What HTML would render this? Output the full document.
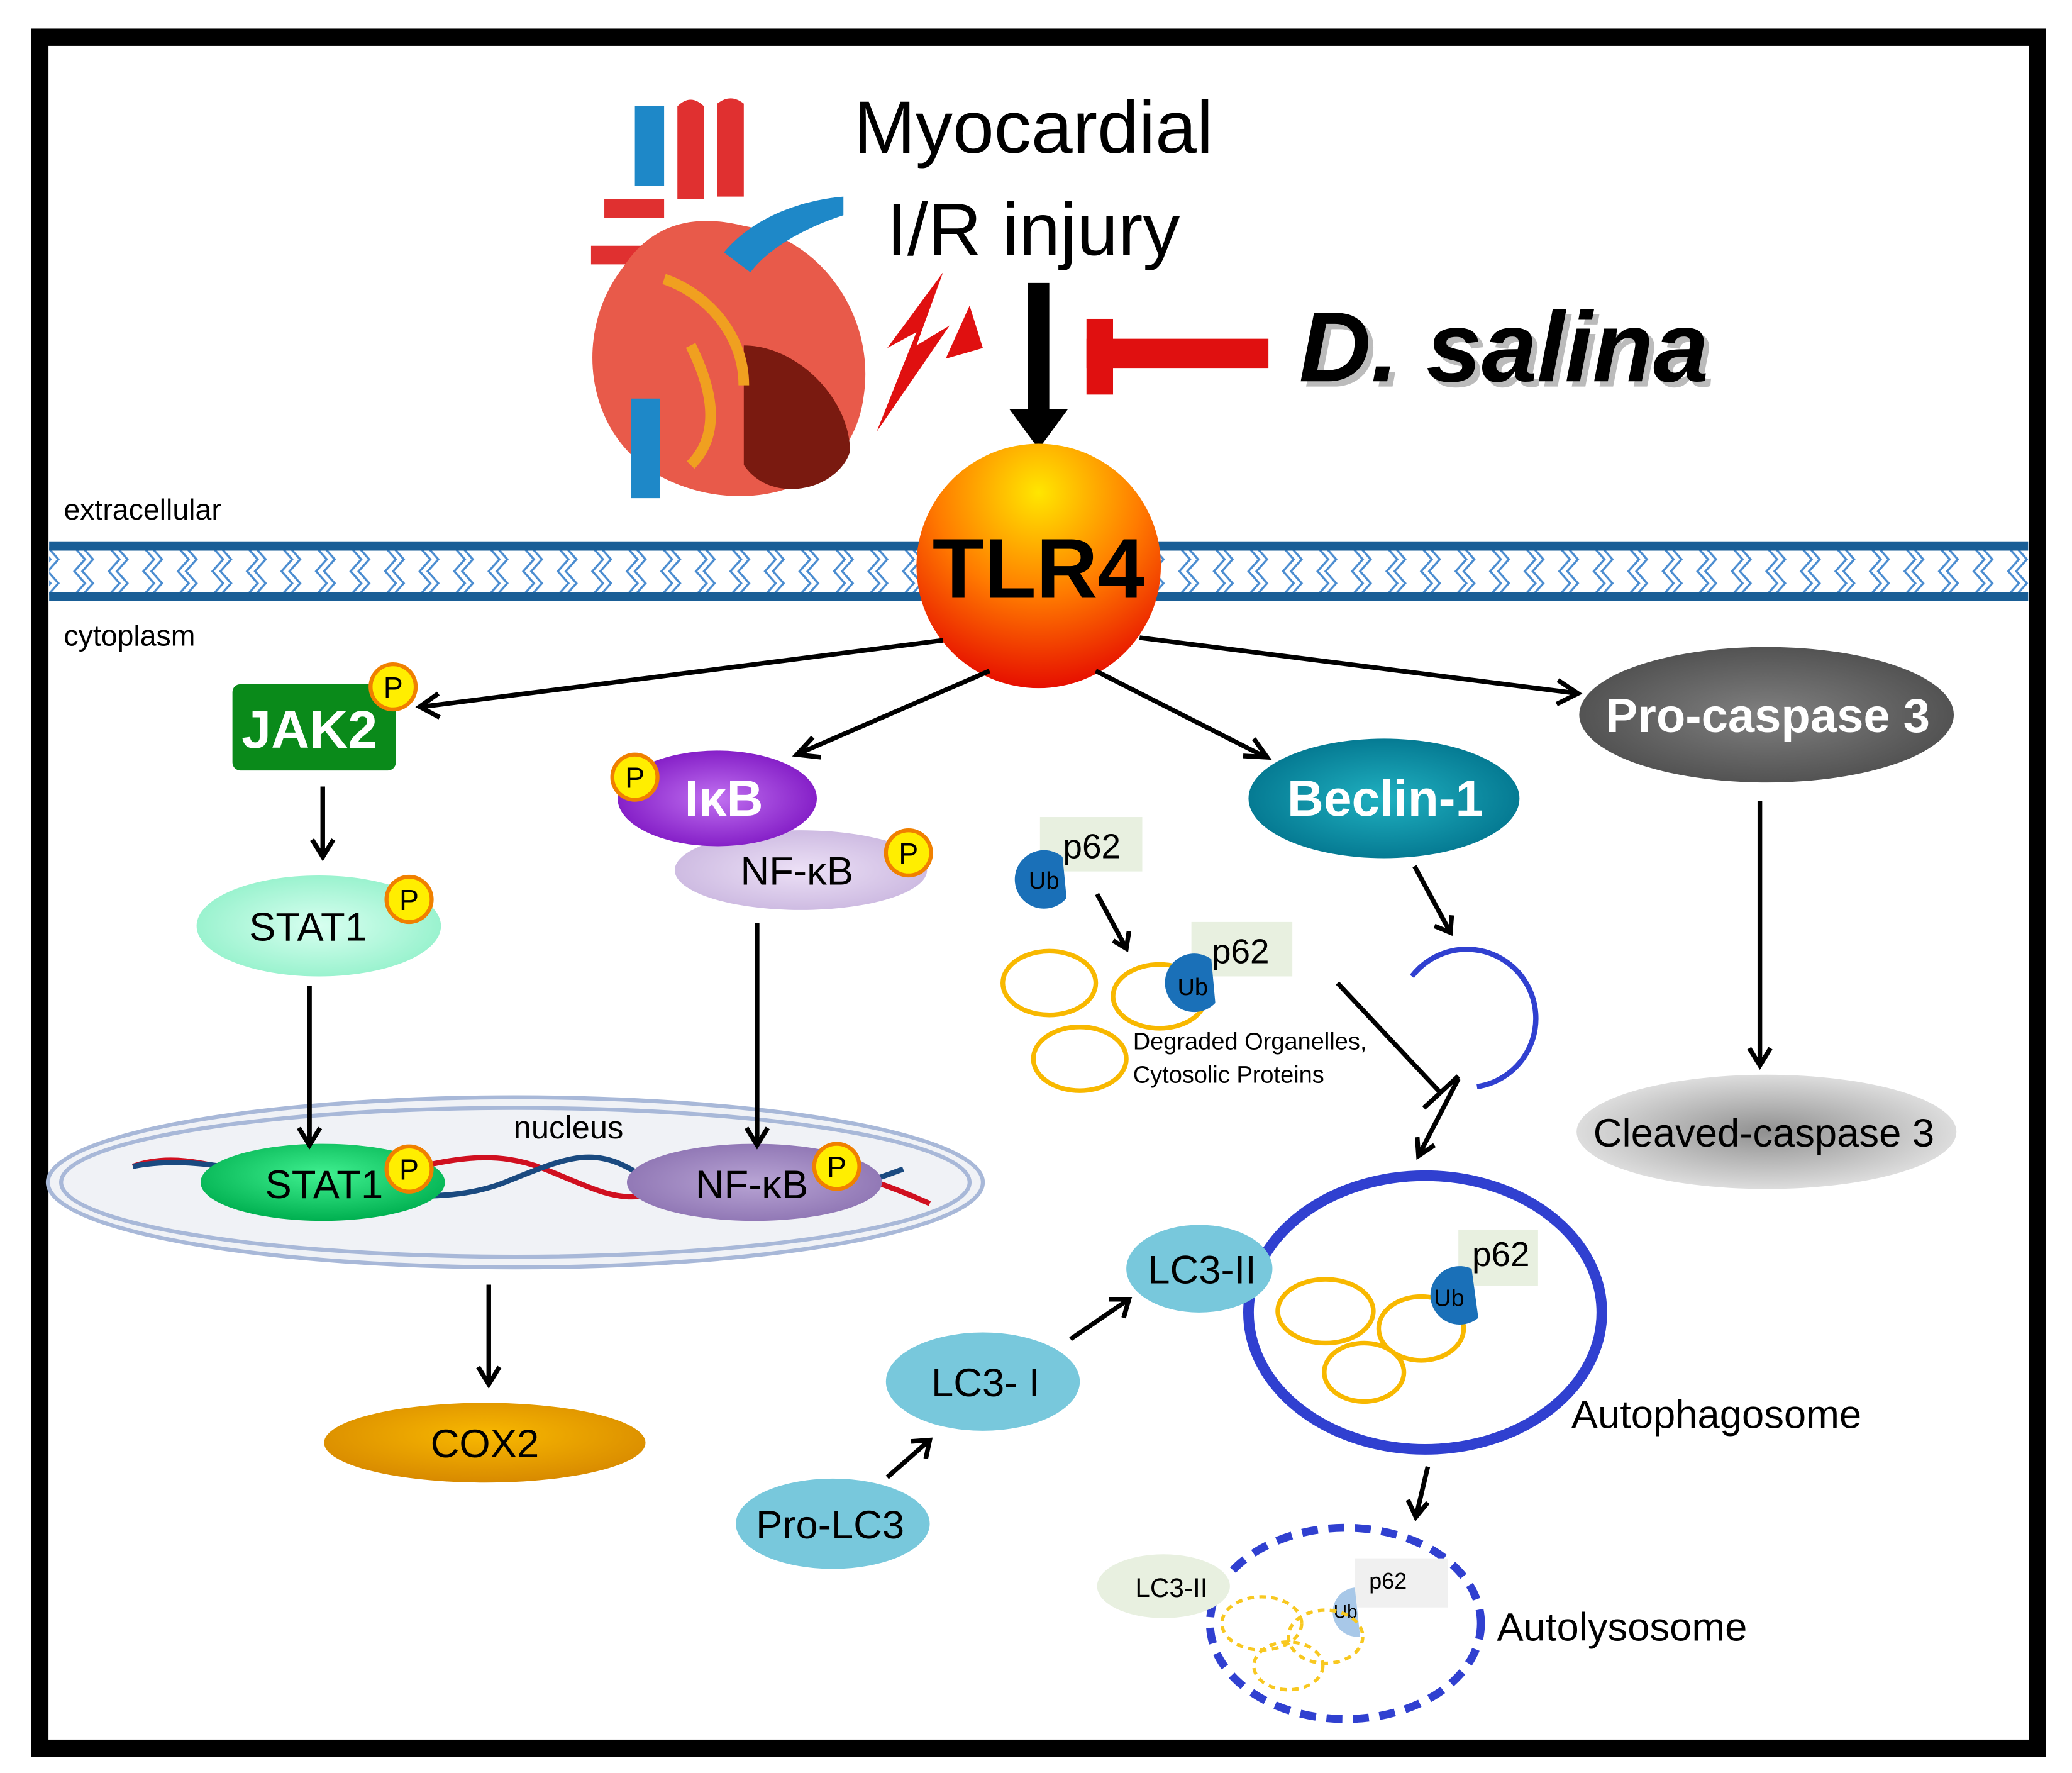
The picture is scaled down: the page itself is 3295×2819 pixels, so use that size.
<!DOCTYPE html>
<html><head><meta charset="utf-8"><style>
html,body{margin:0;padding:0;background:#fff}
svg{display:block}
text{font-family:"Liberation Sans",sans-serif}
</style></head><body>
<svg width="3295" height="2819" viewBox="0 0 1560 1334.6" xmlns="http://www.w3.org/2000/svg">
<defs>
<radialGradient id="tlr" cx="0.5" cy="0.2" r="0.85"><stop offset="0" stop-color="#ffe600"/><stop offset="0.5" stop-color="#ff7a00"/><stop offset="1" stop-color="#e30000"/></radialGradient>
<radialGradient id="mint" cx="0.5" cy="0.5" r="0.6"><stop offset="0" stop-color="#d8fff0"/><stop offset="1" stop-color="#8ef0c8"/></radialGradient>
<radialGradient id="grn" cx="0.5" cy="0.4" r="0.6"><stop offset="0" stop-color="#40f090"/><stop offset="1" stop-color="#00b050"/></radialGradient>
<radialGradient id="pur" cx="0.5" cy="0.5" r="0.6"><stop offset="0" stop-color="#c070f0"/><stop offset="1" stop-color="#7a10c0"/></radialGradient>
<radialGradient id="lav" cx="0.5" cy="0.5" r="0.6"><stop offset="0" stop-color="#ece0f6"/><stop offset="1" stop-color="#c8b4de"/></radialGradient>
<radialGradient id="lav2" cx="0.5" cy="0.5" r="0.6"><stop offset="0" stop-color="#b8a4d4"/><stop offset="1" stop-color="#8a70b0"/></radialGradient>
<radialGradient id="teal" cx="0.5" cy="0.5" r="0.6"><stop offset="0" stop-color="#20b0c0"/><stop offset="1" stop-color="#00708a"/></radialGradient>
<radialGradient id="gry" cx="0.5" cy="0.5" r="0.6"><stop offset="0" stop-color="#808080"/><stop offset="1" stop-color="#4a4a4a"/></radialGradient>
<radialGradient id="lgry" cx="0.5" cy="0.5" r="0.6"><stop offset="0" stop-color="#909090"/><stop offset="1" stop-color="#ececec"/></radialGradient>
<radialGradient id="org" cx="0.5" cy="0.4" r="0.6"><stop offset="0" stop-color="#f8b800"/><stop offset="1" stop-color="#d88a00"/></radialGradient>
<pattern id="zz" x="0" y="412" width="26" height="36" patternUnits="userSpaceOnUse">
<path d="M10 0 L18 9 L10 18 L18 27 L10 36 M4 0 L12 9 L4 18 L12 27 L4 36" stroke="#4a8cd0" stroke-width="1.6" fill="none"/>
</pattern>
</defs>
<rect x="0" y="0" width="1560" height="1335" fill="#fff"/>
<rect x="30" y="28" width="1504" height="1288" fill="none" stroke="#000" stroke-width="13"/>
<!-- membrane -->
<rect x="37" y="412" width="1490" height="36" fill="url(#zz)"/>
<line x1="37" y1="411" x2="1527" y2="411" stroke="#1a5e96" stroke-width="7"/>
<line x1="37" y1="449" x2="1527" y2="449" stroke="#1a5e96" stroke-width="7"/>
<text x="48" y="391" font-size="22">extracellular</text>
<text x="48" y="486" font-size="22">cytoplasm</text>
<!-- heart -->
<g>
<path d="M478 80 h22 v60 h-22z" fill="#1e88c8"/>
<path d="M510 80 q10 -10 20 0 v70 h-20z" fill="#e03030"/>
<path d="M540 78 q10 -8 20 0 v70 h-20z" fill="#e03030"/>
<path d="M455 150 h45 v14 h-45z M445 185 h45 v14 h-45z" fill="#e03030"/>
<path d="M470 200 C430 250 440 330 500 360 C560 390 640 370 650 300 C660 240 620 180 560 170 C520 160 490 170 470 200z" fill="#e85a4a"/>
<path d="M560 260 C600 260 640 300 640 340 C630 370 580 380 560 350z" fill="#7a1a10"/>
<path d="M500 210 C530 220 560 250 560 290 M520 260 C540 300 540 330 520 350" stroke="#f0a020" stroke-width="8" fill="none"/>
<path d="M545 190 C570 160 610 150 635 148 v14 C610 170 580 185 565 205z" fill="#1e88c8"/>
<path d="M475 300 h22 v75 h-22z" fill="#1e88c8"/>
<path d="M710 205 L690 260 L715 245 L660 325 L690 250 L668 262z" fill="#e01010"/>
<path d="M730 230 L740 262 L712 270z" fill="#e01010"/>
</g>
<text x="778" y="115" font-size="56" text-anchor="middle">Myocardial</text>
<text x="778" y="192" font-size="56" text-anchor="middle">I/R injury</text>
<path d="M774 213 h16 v95 h14 l-22 30 l-22 -30 h14z" fill="#000"/>
<rect x="818" y="240" width="20" height="57" fill="#e01010"/>
<rect x="818" y="255" width="137" height="22" fill="#e01010"/>
<text x="978" y="287" font-size="75" font-weight="bold" font-style="italic" fill="#bbb" dx="4" dy="4">D. salina</text>
<text x="978" y="287" font-size="75" font-weight="bold" font-style="italic">D. salina</text>
<!-- TLR4 -->
<circle cx="782" cy="426" r="92" fill="url(#tlr)"/>
<text x="782" y="450" font-size="64" font-weight="bold" text-anchor="middle">TLR4</text>
<!-- nucleus -->
<ellipse cx="388" cy="890" rx="352" ry="64" fill="#f0f2f6" stroke="#a8b8d8" stroke-width="3"/>
<ellipse cx="388" cy="890" rx="342" ry="56" fill="none" stroke="#a8b8d8" stroke-width="3"/>
<text x="428" y="857" font-size="24" text-anchor="middle">nucleus</text>
<path d="M100 878 C150 860 200 900 260 890 S360 860 410 880 S470 910 520 890 S620 870 700 906" stroke="#d01020" stroke-width="4" fill="none"/>
<path d="M100 878 C140 870 180 880 220 888 S330 910 380 890 S450 860 490 890 S600 910 680 880" stroke="#1a4a80" stroke-width="4" fill="none"/>
<ellipse cx="243" cy="890" rx="92" ry="29" fill="url(#grn)"/>
<text x="244" y="902" font-size="30" text-anchor="middle">STAT1</text>
<ellipse cx="568" cy="890" rx="96" ry="29" fill="url(#lav2)"/>
<text x="566" y="902" font-size="30" text-anchor="middle">NF-κB</text>
<!-- arrows -->
<g stroke="#000" stroke-width="3.5" fill="none">
<path d="M710 482 L318 532 M330 522 L316 532 L331 540"/>
<path d="M745 505 L602 567 M612 555 L600 568 L618 570"/>
<path d="M825 505 L953 570 M936 569 L954 570 L944 556"/>
<path d="M858 480 L1188 522 M1173 512 L1188 522 L1172 530"/>
<path d="M243 592 L243 645 M235 632 L243 645 L251 632"/>
<path d="M233 742 L233 862 M225 849 L233 862 L241 849"/>
<path d="M570 695 L570 862 M562 849 L570 862 L578 849"/>
<path d="M368 967 L368 1042 M360 1029 L368 1042 L376 1029"/>
<path d="M1325 603 L1325 802 M1317 789 L1325 802 L1333 789"/>
<path d="M826 673 L848 714 M838 708 L848 714 L850 701"/>
<path d="M1065 652 L1092 702 M1080 697 L1092 702 L1093 689"/>
<path d="M1007 740 L1085 823 M1072 834 L1098 810"/>
<path d="M1098 812 L1068 870 M1067 856 L1068 870 L1080 862"/>
<path d="M668 1112 L700 1084 M686 1085 L700 1084 L697 1098"/>
<path d="M806 1008 L850 978 M835 978 L850 978 L846 992"/>
<path d="M1075 1104 L1066 1142 M1060 1129 L1066 1142 L1075 1131"/>
</g>
<!-- JAK2 -->
<rect x="175" y="515" width="123" height="65" rx="6" fill="#0a8a1a"/>
<text x="233" y="563" font-size="40" font-weight="bold" fill="#fff" text-anchor="middle">JAK2</text>
<ellipse cx="240" cy="697" rx="92" ry="38" fill="url(#mint)"/>
<text x="232" y="708" font-size="30" text-anchor="middle">STAT1</text>
<!-- IkB -->
<ellipse cx="603" cy="655" rx="95" ry="30" fill="url(#lav)"/>
<text x="600" y="666" font-size="30" text-anchor="middle">NF-κB</text>
<ellipse cx="540" cy="601" rx="75" ry="36" fill="url(#pur)"/>
<text x="545" y="614" font-size="38" font-weight="bold" fill="#fff" text-anchor="middle">IκB</text>
<ellipse cx="365" cy="1086" rx="121" ry="30" fill="url(#org)"/>
<text x="365" y="1097" font-size="30" text-anchor="middle">COX2</text>
<!-- P circles -->
<g font-size="22" text-anchor="middle">
<circle cx="296" cy="517" r="17" fill="#ffee00" stroke="#f08000" stroke-width="3"/><text x="296" y="525">P</text>
<circle cx="308" cy="677" r="17" fill="#ffee00" stroke="#f08000" stroke-width="3"/><text x="308" y="685">P</text>
<circle cx="478" cy="585" r="17" fill="#ffee00" stroke="#f08000" stroke-width="3"/><text x="478" y="593">P</text>
<circle cx="684" cy="642" r="17" fill="#ffee00" stroke="#f08000" stroke-width="3"/><text x="684" y="650">P</text>
<circle cx="308" cy="880" r="17" fill="#ffee00" stroke="#f08000" stroke-width="3"/><text x="308" y="888">P</text>
<circle cx="630" cy="878" r="17" fill="#ffee00" stroke="#f08000" stroke-width="3"/><text x="630" y="886">P</text>
</g>
<!-- right side -->
<ellipse cx="1042" cy="601" rx="102" ry="45" fill="url(#teal)"/>
<text x="1043" y="614" font-size="38" font-weight="bold" fill="#fff" text-anchor="middle">Beclin-1</text>
<ellipse cx="1330" cy="538" rx="141" ry="51" fill="url(#gry)"/>
<text x="1331" y="551" font-size="36" font-weight="bold" fill="#fff" text-anchor="middle">Pro-caspase 3</text>
<ellipse cx="1330" cy="852" rx="143" ry="43" fill="url(#lgry)"/>
<text x="1328" y="863" font-size="30" text-anchor="middle">Cleaved-caspase 3</text>
<!-- p62 group -->
<rect x="783" y="615" width="77" height="41" fill="#e8f0e0"/>
<text x="822" y="646" font-size="26" text-anchor="middle">p62</text>
<path d="M800 645 A22 22 0 1 0 803 676z" fill="#1a70b8"/>
<text x="786" y="669" font-size="18" text-anchor="middle">Ub</text>
<g fill="none" stroke="#f8b800" stroke-width="3.5">
<ellipse cx="790" cy="740" rx="35" ry="24"/><ellipse cx="873" cy="750" rx="35" ry="24"/><ellipse cx="813" cy="797" rx="35" ry="24"/>
<ellipse cx="998" cy="987" rx="36" ry="24"/><ellipse cx="1070" cy="1000" rx="32" ry="24"/><ellipse cx="1027" cy="1033" rx="30" ry="22"/>
</g>
<rect x="897" y="694" width="76" height="41" fill="#e8f0e0"/>
<text x="934" y="725" font-size="26" text-anchor="middle">p62</text>
<path d="M912 722 A22 22 0 1 0 915 755z" fill="#1a70b8"/>
<text x="898" y="749" font-size="18" text-anchor="middle">Ub</text>
<text x="853" y="790" font-size="18">Degraded Organelles,</text>
<text x="853" y="815" font-size="18">Cytosolic Proteins</text>
<path d="M1063 735 A52 52 0 1 1 1112 818" fill="none" stroke="#3040d0" stroke-width="4"/>
<!-- autophagosome -->
<ellipse cx="1073" cy="988" rx="133" ry="103" fill="none" stroke="#3040d0" stroke-width="8"/>
<rect x="1098" y="926" width="60" height="42" fill="#e8f0e0"/>
<text x="1130" y="953" font-size="26" text-anchor="middle">p62</text>
<path d="M1108 955 A22 22 0 1 0 1113 992z" fill="#1a70b8"/>
<text x="1091" y="983" font-size="18" text-anchor="middle">Ub</text>
<ellipse cx="903" cy="955" rx="55" ry="33" fill="#78c8dc"/>
<text x="905" y="966" font-size="30" font-family="Liberation Serif" text-anchor="middle">LC3-II</text>
<text x="1183" y="1075" font-size="30">Autophagosome</text>
<ellipse cx="740" cy="1040" rx="73" ry="37" fill="#78c8dc"/>
<text x="742" y="1051" font-size="30" text-anchor="middle">LC3- I</text>
<ellipse cx="627" cy="1147" rx="73" ry="34" fill="#78c8dc"/>
<text x="625" y="1158" font-size="30" text-anchor="middle">Pro-LC3</text>
<!-- autolysosome -->
<ellipse cx="1013" cy="1222" rx="102" ry="72" fill="none" stroke="#3040d0" stroke-width="6" stroke-dasharray="12 8"/>
<ellipse cx="876" cy="1194" rx="50" ry="24" fill="#e8f0e0"/>
<text x="882" y="1202" font-size="20" font-family="Liberation Serif" text-anchor="middle">LC3-II</text>
<rect x="1020" y="1173" width="70" height="37" fill="#f0f0f0"/>
<text x="1045" y="1196" font-size="17" text-anchor="middle">p62</text>
<path d="M1020 1195 A18 18 0 1 0 1024 1232z" fill="#a8c8e8"/>
<text x="1013" y="1218" font-size="14" text-anchor="middle">Ub</text>
<g fill="none" stroke="#f8c820" stroke-width="2.5" stroke-dasharray="5 4">
<ellipse cx="950" cy="1222" rx="30" ry="20"/><ellipse cx="998" cy="1232" rx="28" ry="20"/><ellipse cx="970" cy="1254" rx="26" ry="18"/>
</g>
<text x="1127" y="1235" font-size="30">Autolysosome</text>
</svg>
</body></html>
